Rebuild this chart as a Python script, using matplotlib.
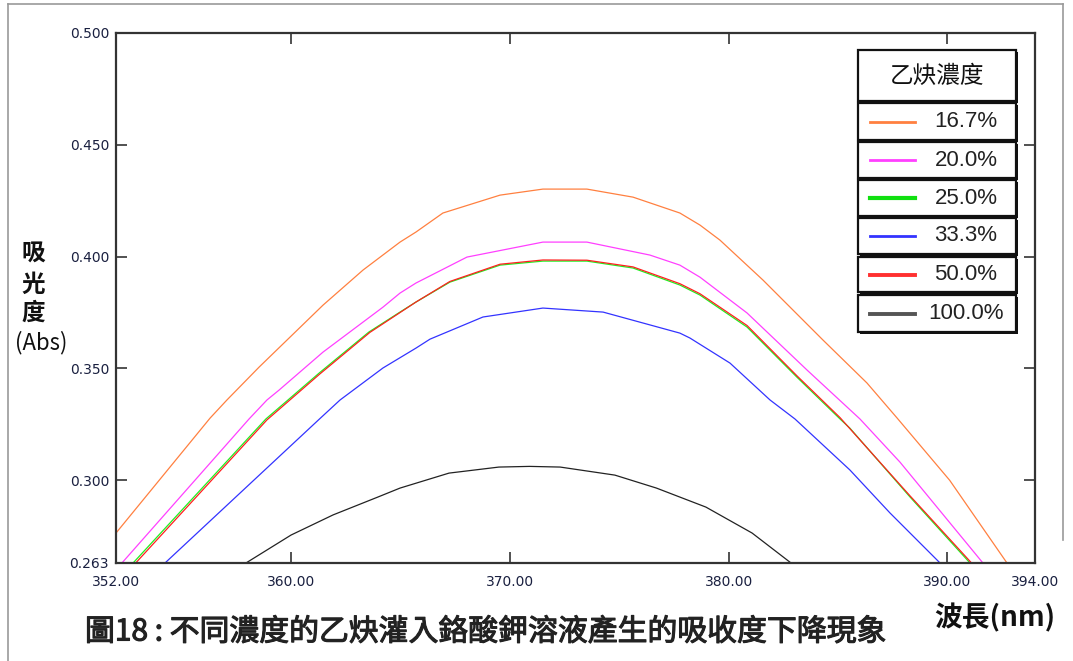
import matplotlib
matplotlib.use('Agg')
import matplotlib.pyplot as plt
import matplotlib.patheffects as pe
from matplotlib.patches import Rectangle
from matplotlib.lines import Line2D

plt.rcParams['font.family'] = ['DejaVu Sans']
CJK = ['Noto Sans CJK TC', 'DejaVu Sans']

# Absorbance curves (wavelength nm, absorbance)
wl_167 = [352.00, 356.30, 357.07, 358.54, 361.46, 363.29, 364.98, 365.71, 366.94, 369.55, 371.51,
          373.52, 375.63, 377.77, 378.69, 379.60, 381.57, 384.31, 386.32, 387.70, 390.10, 392.72]
abs_167 = [0.2764, 0.3278, 0.3359, 0.3506, 0.3783, 0.3940, 0.4065, 0.4110, 0.4195, 0.4275, 0.4302,
           0.4302, 0.4266, 0.4195, 0.4141, 0.4074, 0.3895, 0.3627, 0.3435, 0.3278, 0.3000, 0.2630]

wl_200 = [352.27, 358.08, 358.90, 359.45, 361.46, 364.20, 364.98, 365.71, 368.04, 371.51, 373.52,
          376.40, 377.77, 378.69, 380.84, 383.58, 386.00, 387.83, 388.88, 391.62]
abs_200 = [0.2630, 0.3274, 0.3359, 0.3403, 0.3573, 0.3774, 0.3837, 0.3882, 0.3998, 0.4065, 0.4065,
           0.4007, 0.3962, 0.3908, 0.3748, 0.3493, 0.3274, 0.3081, 0.2956, 0.2630]

wl_250 = [352.78, 358.85, 359.86, 361.28, 363.56, 364.98, 365.71, 367.26, 369.55, 371.51, 373.52,
          375.63, 377.77, 378.69, 380.84, 383.12, 385.09, 385.54, 388.29, 391.03]
abs_250 = [0.2630, 0.3274, 0.3359, 0.3479, 0.3663, 0.3752, 0.3797, 0.3886, 0.3962, 0.3980, 0.3980,
           0.3949, 0.3873, 0.3828, 0.3685, 0.3461, 0.3274, 0.3233, 0.2925, 0.2630]

wl_333 = [354.24, 361.30, 362.24, 364.20, 365.71, 366.35, 368.77, 371.51, 374.26, 377.77, 378.23,
          380.06, 381.89, 383.03, 385.54, 387.37, 389.66]
abs_333 = [0.2630, 0.3274, 0.3359, 0.3502, 0.3591, 0.3631, 0.3730, 0.3770, 0.3752, 0.3658, 0.3636,
           0.3524, 0.3359, 0.3274, 0.3046, 0.2854, 0.2630]

wl_500 = [352.90, 358.90, 361.30, 363.60, 365.71, 367.26, 369.55, 371.51, 373.52, 375.63, 377.77,
          378.69, 380.84, 383.12, 385.09, 388.29, 391.10]
abs_500 = [0.2630, 0.3270, 0.3474, 0.3661, 0.3797, 0.3889, 0.3966, 0.3985, 0.3984, 0.3954, 0.3879,
           0.3834, 0.3692, 0.3467, 0.3280, 0.2930, 0.2630]

wl_1000 = [357.94, 360.00, 361.92, 363.97, 364.98, 367.22, 369.50, 370.90, 372.30, 374.80, 376.70,
           378.96, 381.07, 382.85]
abs_1000 = [0.2630, 0.2755, 0.2845, 0.2925, 0.2965, 0.3032, 0.3059, 0.3062, 0.3059, 0.3023, 0.2965,
            0.2880, 0.2764, 0.2630]

labels = ['16.7%', '20.0%', '25.0%', '33.3%', '50.0%', '100.0%']
colors = ['#ff8040', '#ff40ff', '#20ee20', '#3333ff', '#ff2020', '#222222']
legend_colors = ['#ff8040', '#ff40ff', '#10e010', '#3333ff', '#ff3030', '#555555']
legend_widths = [2.0, 2.0, 3.0, 2.0, 2.8, 2.8]
series = [(wl_167, abs_167), (wl_200, abs_200), (wl_250, abs_250),
          (wl_333, abs_333), (wl_500, abs_500), (wl_1000, abs_1000)]

x_ticks = [352, 360, 370, 380, 390, 394]
y_ticks = [0.263, 0.300, 0.350, 0.400, 0.450, 0.500]

W, H = 1073, 661
fig = plt.figure(figsize=(W / 100, H / 100), dpi=100)


def fx(px):
    return px / W


def fy(py):
    return 1 - py / H


ax = fig.add_axes([fx(116), fy(563), fx(1035) - fx(116), fy(33) - fy(563)])

# draw the curves
for (wl, ab), c in zip(series, colors):
    ax.plot(wl, ab, color=c, lw=0.9)

ax.set_xlim(352, 394)
ax.set_ylim(0.263, 0.500)
ax.set_xticks(x_ticks)
ax.set_xticklabels(['%.2f' % v for v in x_ticks])
ax.set_yticks(y_ticks)
ax.set_yticklabels(['%.3f' % v for v in y_ticks])
ax.tick_params(direction='in', length=8, width=1.2, color='#333333',
               top=True, right=True, labelsize=10, labelcolor='#1a2040', pad=5)
ax.tick_params(axis='x', pad=9)
for s in ax.spines.values():
    s.set_color('#333333')
    s.set_linewidth(1.6)

# figure frame (left / top / right part)
fig.add_artist(Line2D([fx(8), fx(8)], [fy(4), 0], color='#999999', lw=1.2))
fig.add_artist(Line2D([fx(8), fx(1063)], [fy(4), fy(4)], color='#999999', lw=1.2))
fig.add_artist(Line2D([fx(1063), fx(1063)], [fy(4), fy(540)], color='#999999', lw=1.2))

# y label
for ch, py in zip('吸光度', [254, 285, 313]):
    fig.text(fx(33), fy(py), ch, family=CJK, fontsize=17, fontweight='bold',
             ha='center', va='center', color='#111111')
fig.text(fx(41), fy(343), '(Abs)', family=CJK, fontsize=16, ha='center', va='center',
         color='#111111')

# x label and caption
fig.text(fx(995), fy(618), '波長(nm)', family=CJK, fontsize=20, fontweight='bold',
         ha='center', va='center', color='#111111')
cap = fig.text(fx(85), fy(632), '圖18 : 不同濃度的乙炔灌入鉻酸鉀溶液產生的吸收度下降現象',
               family=CJK, fontsize=21.5, ha='left', va='center', color='#222222')
cap.set_path_effects([pe.withStroke(linewidth=0.8, foreground='#222222')])

# table style legend
def box(x0, y0, x1, y1):
    fig.add_artist(Rectangle((fx(x0) + 2 / W, fy(y1) - 2 / H), fx(x1) - fx(x0), fy(y0) - fy(y1),
                             transform=fig.transFigure, facecolor='#111111', edgecolor='none'))
    fig.add_artist(Rectangle((fx(x0), fy(y1)), fx(x1) - fx(x0), fy(y0) - fy(y1),
                             transform=fig.transFigure, facecolor='white',
                             edgecolor='#111111', lw=1.6))


box(858, 50, 1016, 101)
fig.text(fx(937), fy(76), '乙炔濃度', family=CJK, fontsize=17, ha='center', va='center',
         color='#111111')
row_tops = [103, 142, 180, 218, 257, 295]
row_bots = [140, 178, 216, 254, 292, 332]
for lab, c, lw, t, b in zip(labels, legend_colors, legend_widths, row_tops, row_bots):
    box(858, t, 1016, b)
    yc = fy((t + b) / 2)
    fig.add_artist(Line2D([fx(870), fx(915)], [yc, yc], color=c, lw=lw))
    fig.text(fx(966), yc, lab, family=['Liberation Sans'], fontsize=16,
             ha='center', va='center', color='#222222')

fig.savefig('out.png', dpi=100)
